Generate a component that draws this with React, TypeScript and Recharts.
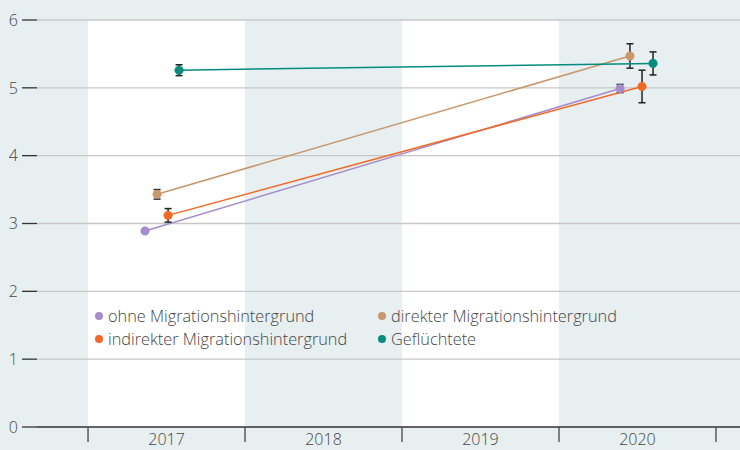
import React from 'react';
import {
  ComposedChart,
  Line,
  XAxis,
  YAxis,
  ErrorBar,
  ReferenceArea,
  ReferenceLine,
  Legend
} from 'recharts';

// series in legend order (left column first, row by row)
const seriesNames = [
  'ohne Migrationshintergrund',
  'direkter Migrationshintergrund',
  'indirekter Migrationshintergrund',
  'Geflüchtete'
];
const seriesColors = ['#a58ccc', '#c8976c', '#f06a26', '#078b7e'];

// x positions (years, slightly dodged within each year)
const ohneX = [2016.863, 2019.889];
const direkterX = [2016.94, 2019.952];
const indirekterX = [2017.01, 2020.029];
const gefluechteteX = [2017.08, 2020.099];

const ohneY = [2.89, 4.99];
const direkterY = [3.43, 5.47];
const indirekterY = [3.12, 5.02];
const gefluechteteY = [5.26, 5.36];

const ohneErr = [0.02, 0.06];
const direkterErr = [0.07, 0.18];
const indirekterErr = [0.1, 0.24];
const gefluechteteErr = [0.08, 0.17];

const years = [2017, 2018, 2019, 2020];
const yearBounds = [2016.5, 2017.5, 2018.5, 2019.5, 2020.5];
const whiteYears = [2017, 2019];
const yTicks = [0, 1, 2, 3, 4, 5, 6];

const build = (xs: number[], ys: number[], es: number[]) =>
  xs.map((x, i) => ({ x, y: ys[i], err: es[i] }));

const seriesData = [
  build(ohneX, ohneY, ohneErr),
  build(direkterX, direkterY, direkterErr),
  build(indirekterX, indirekterY, indirekterErr),
  build(gefluechteteX, gefluechteteY, gefluechteteErr)
];

const FONT = '"Open Sans", "Noto Sans", sans-serif';
const TEXT = '#454545';

const XTick = (props: any) => {
  const { x, y, payload } = props;
  const v = payload.value;
  if (Number.isInteger(v)) {
    return (
      <text x={x} y={y + 18} textAnchor="middle" fontSize={16} fill={TEXT} fontFamily={FONT} fontWeight={300}>
        {v}
      </text>
    );
  }
  return <line x1={x} x2={x} y1={y} y2={y + 15} stroke="#444" strokeWidth={1.3} />;
};

const LegendBox = () => (
  <div
    style={{
      display: 'grid',
      gridTemplateColumns: '283px 283px',
      rowGap: 2,
      fontFamily: FONT,
      fontWeight: 300,
      fontSize: 16.3,
      color: TEXT
    }}
  >
    {seriesNames.map((n, i) => (
      <div key={n} style={{ display: 'flex', alignItems: 'center', height: 21 }}>
        <span
          style={{
            width: 8,
            height: 8,
            borderRadius: 4,
            background: seriesColors[i],
            display: 'inline-block',
            marginRight: 5
          }}
        />
        {n}
      </div>
    ))}
  </div>
);

const App = () => {
  return (
    <div style={{ position: 'fixed', left: 0, top: 0, width: 740, height: 450, background: '#e7eff0' }}>
      <ComposedChart width={740} height={450} margin={{ top: 20, right: 0, left: 0, bottom: 0 }}>
        <XAxis
          type="number"
          dataKey="x"
          domain={[2016.175, 2020.653]}
          allowDataOverflow
          ticks={[...yearBounds, ...years].sort()}
          interval={0}
          tick={<XTick />}
          tickLine={false}
          tickSize={0}
          tickMargin={0}
          height={23}
          axisLine={{ stroke: '#333', strokeWidth: 1.3 }}
        />
        <YAxis
          type="number"
          domain={[0, 6]}
          ticks={yTicks}
          width={37}
          axisLine={false}
          tickSize={15}
          tickMargin={4}
          tickLine={{ stroke: '#333', strokeWidth: 1.3 }}
          tick={{ fontSize: 16, fill: TEXT, fontFamily: FONT, fontWeight: 300 }}
        />
        {whiteYears.map((yr) => (
          <ReferenceArea
            key={yr}
            x1={yr - 0.5}
            x2={yr + 0.5}
            y1={0}
            y2={6}
            fill="#ffffff"
            fillOpacity={1}
            stroke="none"
          />
        ))}
        {yTicks.filter((t) => t > 0).map((t) => (
          <ReferenceLine key={t} y={t} stroke="#c6c8c8" strokeWidth={1.3} />
        ))}
        <Legend
          layout="horizontal"
          verticalAlign="middle"
          align="center"
          content={<LegendBox />}
          wrapperStyle={{ left: 95, top: 305, width: 580 }}
        />
        {seriesData.map((d, i) => (
          <Line
            key={seriesNames[i]}
            data={d}
            dataKey="y"
            name={seriesNames[i]}
            stroke={seriesColors[i]}
            strokeWidth={1.5}
            dot={{ r: 4.3, fill: seriesColors[i], stroke: seriesColors[i], strokeWidth: 0.5 }}
            activeDot={false}
            isAnimationActive={false}
          >
            <ErrorBar dataKey="err" width={3.5} stroke="#222" strokeWidth={1.5} direction="y" />
          </Line>
        ))}
      </ComposedChart>
    </div>
  );
};

export default App;
